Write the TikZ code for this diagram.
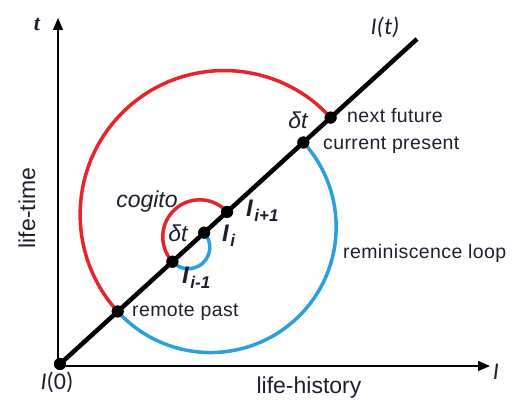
\documentclass[tikz,border=0pt]{standalone}
\usepackage{fontspec}
\setmainfont{Liberation Sans}
\newfontfamily\carlfont{Carlito}
\newfontfamily\serfont{Liberation Serif}
\usetikzlibrary{arrows.meta}
\definecolor{myred}{HTML}{E8232B}
\definecolor{myblue}{HTML}{2B9FDF}
\definecolor{ink}{HTML}{1E1E2E}
\newcommand{\isub}[1]{\kern1.5pt\raisebox{-5pt}{\fontsize{17}{19}\selectfont #1}}
\begin{document}
\begin{tikzpicture}[x=1pt,y=-1pt,
  dot/.style={circle, fill=black, inner sep=0pt, minimum size=12pt},
  lbl/.style={text=ink, font=\addfontfeatures{LetterSpace=2}\fontsize{19.5}{22}\selectfont, inner sep=0pt},
  big/.style={text=ink, font=\fontsize{23}{26}\selectfont, inner sep=0pt},
  carl/.style={text=ink, font=\carlfont\fontsize{24}{27}\selectfont, inner sep=0pt},
  ilbl/.style={text=ink, font=\bfseries\itshape\fontsize{24}{27}\selectfont, inner sep=0pt},
  axisline/.style={line width=1.5pt, -{Triangle[length=12pt,width=10pt]}},
  redarc/.style={myred, line width=3.5pt},
  bluearc/.style={myblue, line width=3.5pt}]
\useasboundingbox (0,0) rectangle (512,403);
% axes
\coordinate (corner) at (58,366);
\coordinate (ytip) at (58,18);
\coordinate (xtip) at (490,366);
\draw[axisline] (corner) -- (ytip);
\draw[axisline] (corner) -- (xtip);
% points on the diagonal
\coordinate (lend) at (417,39);
\node[dot] (o)  at (60,364) {};
\node[dot] (rp) at (117.7,311.5) {};
\node[dot] (im) at (172.4,261.7) {};
\node[dot] (ii) at (204.2,232.7) {};
\node[dot] (ip) at (227.1,211.9) {};
\node[dot] (cp) at (303.3,142.5) {};
\node[dot] (nf) at (330.6,117.6) {};
% spiral
\draw[redarc] (nf.center) arc[start angle=-42.32, end angle=-222.32, radius=144];
\draw[bluearc] (rp.center) arc[start angle=137.68, end angle=-42.32, radius=125.6];
\draw[redarc] (ip.center) arc[start angle=-42.32, end angle=-222.32, radius=37];
\draw[bluearc] (im.center) arc[start angle=137.68, end angle=-42.32, radius=21.5];
% diagonal
\draw[line width=4.5pt] (o.center) -- (lend);
\foreach \p in {o,rp,im,ii,ip,cp,nf} \fill (\p) circle[radius=6pt];
% labels
\node[text=ink, font=\serfont\bfseries\itshape\fontsize{22}{25}\selectfont, inner sep=0pt] (tl) at (37,24) {t};
\node[carl] (it) at (385,27) {\itshape I(t)};
\node[carl] (i0) at (57,382) {\textit{I}(0)};
\node[carl] (il) at (496,372) {\itshape I};
\node[big] (lh) at (309,388) {life-history};
\node[big, rotate=90] (lt) at (27,208) {life-time};
\node[lbl, anchor=west] (nfl) at (347,116) {next future};
\node[lbl, anchor=west] (cpl) at (323,145) {current present};
\node[lbl, anchor=west] (rpl) at (132,312) {remote past};
\node[lbl, anchor=west] (rll) at (343,253) {reminiscence loop};
\node[big, font=\itshape\fontsize{23}{26}\selectfont] (cog) at (147,202) {cogito};
\node[big, font=\itshape\fontsize{23}{26}\selectfont] (dt1) at (178,233) {δt};
\node[big, font=\itshape\fontsize{23}{26}\selectfont] (dt2) at (298,120) {δt};
\node[ilbl, anchor=west] (lip) at (246,211) {I\isub{i+1}};
\node[ilbl, anchor=west] (lii) at (222,236) {I\isub{i}};
\node[ilbl, anchor=west] (lim) at (182,278) {I\isub{i-1}};
\end{tikzpicture}
\end{document}
